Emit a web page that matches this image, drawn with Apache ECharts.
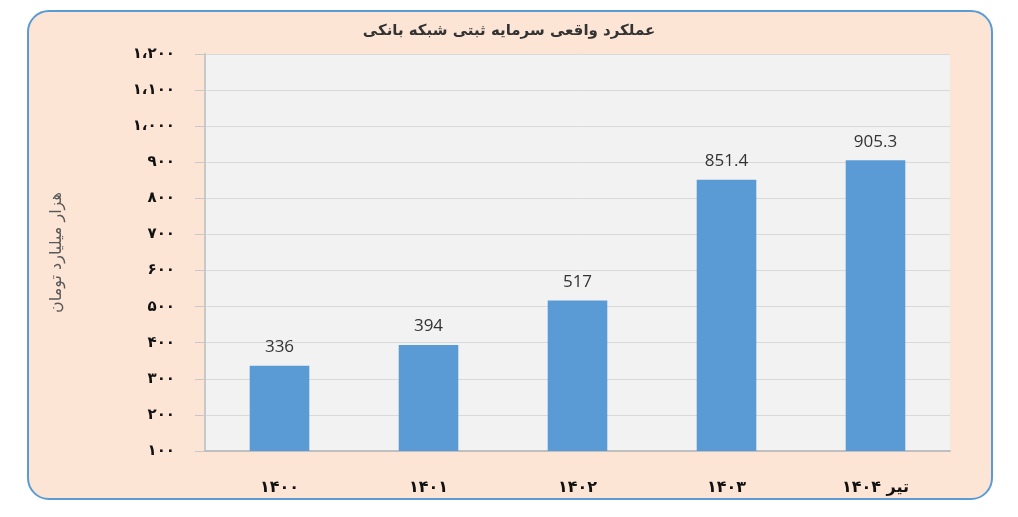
<!DOCTYPE html>
<html>
<head>
<meta charset="utf-8">
<script src="https://cdn.jsdelivr.net/npm/echarts@6/dist/echarts.min.js"></script>
<style>
  html, body { margin: 0; padding: 0; background: #ffffff; }
  #frame { position: absolute; left: 27px; top: 10px; width: 962px; height: 486px;
           background: #fde5d6; border: 2px solid #5b9bd5; border-radius: 22px; }
  #chart { position: absolute; left: 0; top: 0; width: 1018px; height: 517px; }
</style>
</head>
<body>
<div id="frame"></div>
<div id="chart"></div>
<script>
const titleText = 'عملکرد واقعی سرمایه ثبتی شبکه بانکی';
const yAxisTitle = 'هزار میلیارد تومان';
const categories = ['۱۴۰۰', '۱۴۰۱', '۱۴۰۲', '۱۴۰۳', 'تیر ۱۴۰۴'];
const values = [336, 394, 517, 851.4, 905.3];
const yMin = 100, yMax = 1200, yStep = 100;

const faDigits = ['۰','۱','۲','۳','۴','۵','۶','۷','۸','۹'];
function toPersian(n) {
  let s = String(n);
  if (n >= 1000) s = s.slice(0, s.length - 3) + '،' + s.slice(-3);
  return s.replace(/[0-9]/g, d => faDigits[+d]);
}

const chart = echarts.init(document.getElementById('chart'));
chart.setOption({
  backgroundColor: 'transparent',
  animation: false,
  title: {
    text: titleText,
    left: 'center',
    top: 19,
    textStyle: { fontFamily: 'DejaVu Sans', fontSize: 15, fontWeight: 'bold', color: '#333333' }
  },
  grid: {
    left: 205, right: 68, top: 54, bottom: 66,
    show: true, backgroundColor: '#f2f2f2', borderWidth: 0
  },
  xAxis: {
    type: 'category',
    data: categories,
    axisLine: { lineStyle: { color: '#bfbfbf', width: 2 } },
    axisTick: { show: false },
    axisLabel: { margin: 29, fontFamily: 'DejaVu Sans', fontSize: 16, fontWeight: 'bold', color: '#111' }
  },
  yAxis: {
    type: 'value',
    min: yMin, max: yMax, interval: yStep,
    name: yAxisTitle,
    nameLocation: 'middle',
    nameRotate: 90,
    nameGap: 140,
    nameTextStyle: { fontFamily: 'DejaVu Sans', fontSize: 16, color: '#595959' },
    axisLine: { show: true, lineStyle: { color: '#c8c8c8', width: 2 } },
    axisTick: { show: true, length: 10, lineStyle: { color: '#c8c8c8' } },
    splitLine: { lineStyle: { color: '#d9d9d9', width: 1 } },
    axisLabel: {
      margin: 30,
      fontFamily: 'DejaVu Sans', fontSize: 15, fontWeight: 'bold', color: '#111',
      formatter: v => toPersian(v)
    }
  },
  series: [{
    type: 'bar',
    data: values,
    barWidth: '40%',
    itemStyle: { color: '#5b9bd5' },
    label: {
      show: true, position: 'top', distance: 10,
      fontFamily: 'Open Sans', fontSize: 17, color: '#333333'
    }
  }]
});
</script>
</body>
</html>
